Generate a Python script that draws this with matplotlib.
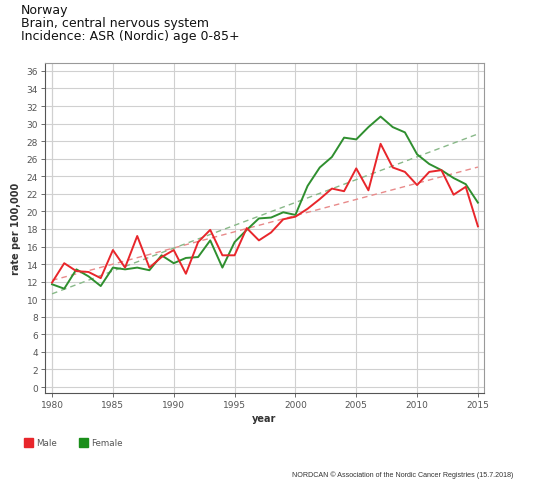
import numpy as np
import matplotlib
matplotlib.use("Agg")
import matplotlib.pyplot as plt
from matplotlib.patches import Rectangle

years = list(range(1980, 2016))
male = [11.9, 14.1, 13.2, 13.1, 12.4, 15.6, 13.6, 17.2, 13.6, 14.8,
        15.6, 12.9, 16.5, 17.9, 15.0, 15.0, 18.1, 16.7, 17.6, 19.1,
        19.4, 20.3, 21.4, 22.6, 22.3, 24.9, 22.4, 27.7, 25.0, 24.5,
        23.0, 24.5, 24.7, 21.9, 22.8, 18.3]
female = [11.7, 11.2, 13.4, 12.6, 11.5, 13.6, 13.4, 13.6, 13.3, 15.0,
          14.1, 14.7, 14.8, 16.7, 13.6, 16.5, 17.9, 19.2, 19.3, 19.9,
          19.6, 22.9, 25.0, 26.2, 28.4, 28.2, 29.6, 30.8, 29.6, 29.0,
          26.5, 25.4, 24.7, 23.8, 23.1, 21.0]
series_names = ["Male", "Female"]
yticks = list(range(0, 37, 2))
xticks = list(range(1980, 2016, 5))

red = "#e8262b"
green = "#2f8f2f"
red_tr = "#e88a8a"
green_tr = "#88b888"

W, H = 540, 485
fig = plt.figure(figsize=(W / 100, H / 100), dpi=100)
ax = fig.add_axes([45 / W, 1 - 394 / H, (484 - 45) / W, (394 - 64) / H])

yrs = np.array(years, dtype=float)
for vals, c, tc in [(male, red, red_tr), (female, green, green_tr)]:
    p = np.polyfit(yrs, np.array(vals), 1)
    ax.plot(yrs, np.polyval(p, yrs), color=tc, lw=1.0, ls=(0, (4, 3)), zorder=2)
ax.plot(years, female, color=green, lw=1.4, zorder=3)
ax.plot(years, male, color=red, lw=1.4, zorder=4)

ax.set_xlim(1979.42, 2015.5)
ax.set_ylim(-0.68, 36.9)
ax.set_xticks(xticks)
ax.set_yticks(yticks)
ax.grid(True, color="#d0d0d0", lw=0.8)
ax.axvline(1980, color="#d0d0d0", lw=0.8, zorder=0)
ax.axvline(2015, color="#d0d0d0", lw=0.8, zorder=0)
ax.set_axisbelow(True)
ax.tick_params(axis="both", labelsize=6.5, colors="#555555", length=3, width=0.6)
ax.tick_params(axis="y", pad=2)
ax.tick_params(axis="x", pad=2)
for s in ["left", "bottom"]:
    ax.spines[s].set_color("#555555")
for s in ["top", "right"]:
    ax.spines[s].set_color("#999999")
for s in ax.spines.values():
    s.set_linewidth(0.8)

ax.set_xlabel("year", fontsize=7, fontweight="bold", color="#333333", labelpad=3)
ax.set_ylabel("rate per 100,000", fontsize=7, fontweight="bold", color="#333333", labelpad=4)

title = "Norway\nBrain, central nervous system\nIncidence: ASR (Nordic) age 0-85+"
fig.text(21 / W, 1 - 4 / H, title, ha="left", va="top", fontsize=9.0,
         linespacing=1.0, color="#111111")

# legend
for i, (name, c) in enumerate(zip(series_names, [red, "#1a8f1a"])):
    x0 = [24, 79][i]
    fig.patches.append(Rectangle((x0 / W, 1 - 448 / H), 9 / W, 9 / H,
                                 transform=fig.transFigure, color=c))
    fig.text((x0 + 12) / W, 1 - 444 / H, name, ha="left", va="center",
             fontsize=6.3, color="#555555")

fig.text(513 / W, 1 - 475 / H,
         "NORDCAN \u00a9 Association of the Nordic Cancer Registries (15.7.2018)",
         ha="right", va="center", fontsize=5.1, color="#333333",
         family="Liberation Sans")

fig.savefig("out.png", dpi=100)
